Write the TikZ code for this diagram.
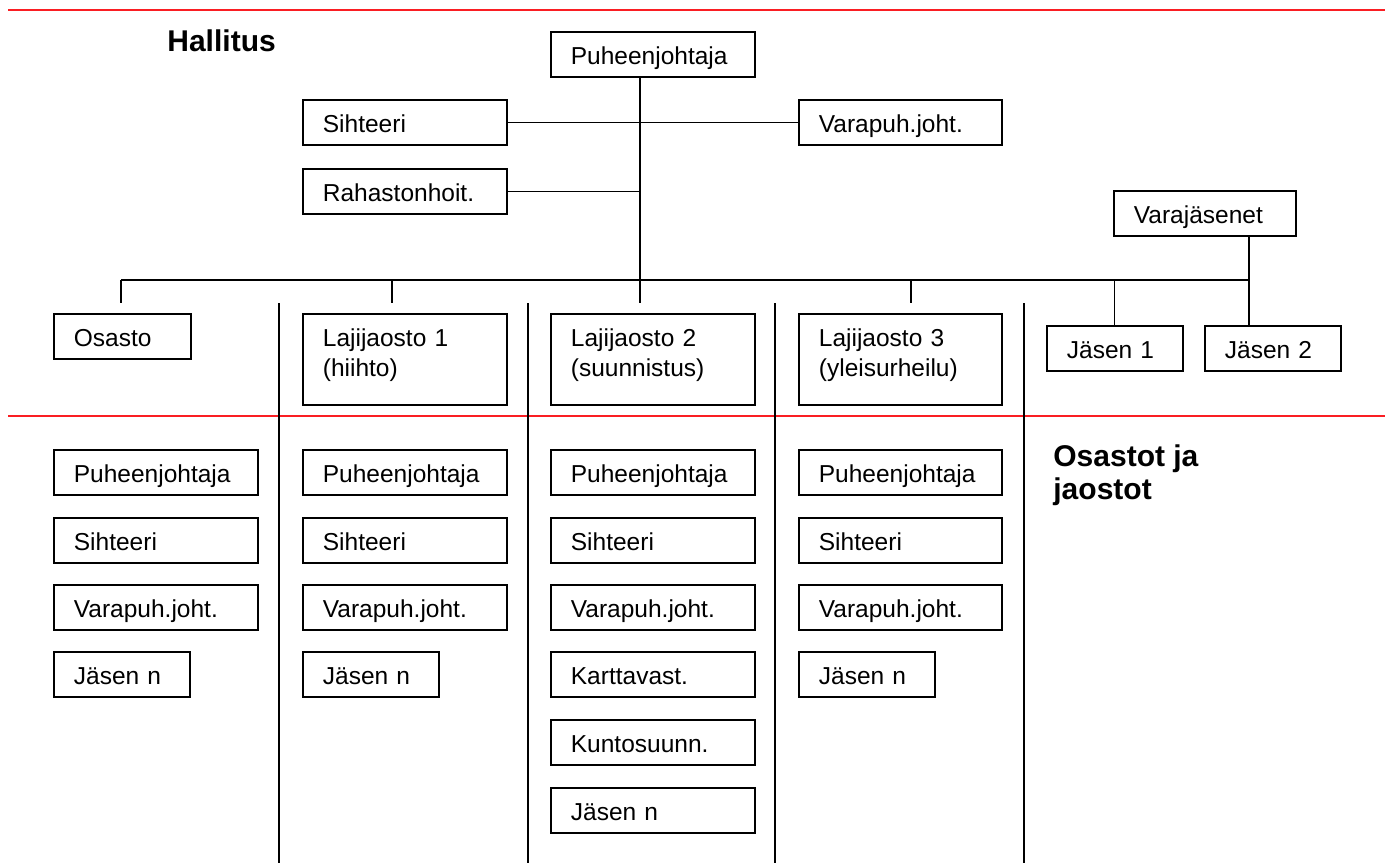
\documentclass[tikz,border=0pt]{standalone}
\usepackage{fontspec}
\setmainfont{Liberation Sans}
\definecolor{redline}{RGB}{250,30,35}
\begin{document}
\begin{tikzpicture}[x=0.5pt,y=-0.5pt,
  box/.style={draw, line width=0.9pt, anchor=north west, inner xsep=10pt, inner ysep=0pt,
    text height=16.5pt, text depth=6pt, align=left, font=\fontsize{12.25}{14.75}\selectfont},
  wide/.style={text width=82pt},
  short/.style={text width=48pt},
  tall/.style={text depth=29pt},
  conn/.style={line width=0.55pt},
  sep/.style={line width=0.6pt},
  red rule/.style={draw=redline, line width=1pt},
  title/.style={anchor=base west, inner sep=0pt, align=left, font=\fontsize{15}{16.5}\selectfont\bfseries}]
\useasboundingbox (0,0) rectangle (1388,863);
% red rules
\draw[red rule] (8,10) -- (1385,10);
\draw[red rule] (8,416) -- (1385,416);
% titles
\node[title] (hallitus) at (167,51) {Hallitus};
\node[title, anchor=north west] (osastot) at (1053,444) {Osastot ja\\jaostot};
% board
\node[box, wide] (puh) at (550,31) {Puheenjohtaja};
\node[box, wide] (sih) at (302,99) {Sihteeri};
\node[box, text width=81.5pt] (vara) at (798,99) {Varapuh.joht.};
\node[box, wide] (raha) at (302,168) {Rahastonhoit.};
\node[box, text width=71pt] (varaj) at (1113,190) {Varajäsenet};
% second row
\node[box, text width=48.5pt] (osasto) at (53,313) {Osasto};
\node[box, wide, tall] (laji1) at (302,313) {Lajijaosto 1\\(hiihto)};
\node[box, wide, tall] (laji2) at (550,313) {Lajijaosto 2\\(suunnistus)};
\node[box, text width=81.5pt, tall] (laji3) at (798,313) {Lajijaosto 3\\(yleisurheilu)};
\node[box, short] (jas1) at (1046,325) {Jäsen 1};
\node[box, short] (jas2) at (1204,325) {Jäsen 2};
% column 0
\node[box, wide] (c0a) at (53,449) {Puheenjohtaja};
\node[box, wide] (c0b) at (53,517) {Sihteeri};
\node[box, wide] (c0c) at (53,584) {Varapuh.joht.};
\node[box, short] (c0d) at (53,651) {Jäsen n};
% column 1
\node[box, wide] (c1a) at (302,449) {Puheenjohtaja};
\node[box, wide] (c1b) at (302,517) {Sihteeri};
\node[box, wide] (c1c) at (302,584) {Varapuh.joht.};
\node[box, short] (c1d) at (302,651) {Jäsen n};
% column 2
\node[box, wide] (c2a) at (550,449) {Puheenjohtaja};
\node[box, wide] (c2b) at (550,517) {Sihteeri};
\node[box, wide] (c2c) at (550,584) {Varapuh.joht.};
\node[box, wide] (c2d) at (550,651) {Karttavast.};
\node[box, wide] (c2e) at (550,719) {Kuntosuunn.};
\node[box, wide] (c2f) at (550,787) {Jäsen n};
% column 3
\node[box, text width=81.5pt] (c3a) at (798,449) {Puheenjohtaja};
\node[box, text width=81.5pt] (c3b) at (798,517) {Sihteeri};
\node[box, text width=81.5pt] (c3c) at (798,584) {Varapuh.joht.};
\node[box, short] (c3d) at (798,651) {Jäsen n};
% connectors
\coordinate (tx) at (640,0);
\coordinate (busL) at (121,280);
\coordinate (busR) at (1249,280);
\coordinate (dropY) at (0,303);
\coordinate (d1) at (392,303);
\coordinate (d3) at (911,303);
\draw[conn] (puh.south -| tx) -- (tx |- dropY);
\draw[conn] (sih.east) -- (vara.west);
\draw[conn] (raha.east) -- (raha.east -| tx);
\draw[conn] (busL) -- (busR);
\draw[conn] (busL) -- (busL |- dropY);
\draw[conn] (d1 |- busL) -- (d1);
\draw[conn] (d3 |- busL) -- (d3);
\draw[conn] (varaj.south -| busR) -- (jas2.north -| busR);
\draw[conn] (jas1.north |- busL) -- (jas1.north);
% column separators
\coordinate (v1t) at (279,303); \coordinate (v1b) at (279,863);
\coordinate (v2t) at (528,303); \coordinate (v2b) at (528,863);
\coordinate (v3t) at (775,303); \coordinate (v3b) at (775,863);
\coordinate (v4t) at (1024,303); \coordinate (v4b) at (1024,863);
\draw[sep] (v1t) -- (v1b);
\draw[sep] (v2t) -- (v2b);
\draw[sep] (v3t) -- (v3b);
\draw[sep] (v4t) -- (v4b);
\end{tikzpicture}
\end{document}
